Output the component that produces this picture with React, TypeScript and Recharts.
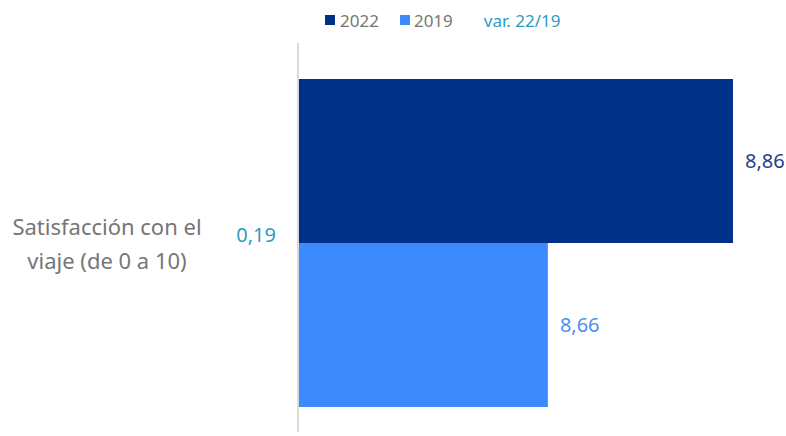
import { BarChart, Bar, XAxis, YAxis, Legend, LabelList } from 'recharts'

const categories = ['Satisfacción con el viaje (de 0 a 10)']
const values2022 = [8.86]
const values2019 = [8.66]
const variation = [0.19]
const categoryLines = [['Satisfacción con el', 'viaje (de 0 a 10)']]

const COLOR_2022 = '#003087'
const COLOR_2019 = '#3d8afd'
const COLOR_VAR = '#2e9ac4'
const TEXT_GRAY = '#767676'
const FONT = '"Noto Sans", "Open Sans", sans-serif'

const data = categories.map((name, i) => ({
  name,
  y2022: values2022[i],
  y2019: values2019[i],
  variation: variation[i],
}))

const fmt = (v: any) => Number(v).toFixed(2).replace('.', ',')

const CategoryTick = ({ x, y, payload }: any) => {
  const idx = payload.index ?? 0
  const lines = categoryLines[idx] || [payload.value]
  return (
    <g>
      <text x={107} y={y} textAnchor="middle" fontFamily={FONT} fontSize={22} fill={TEXT_GRAY}>
        {lines.map((l, i) => (
          <tspan key={i} x={107} dy={i === 0 ? -8 : 34}>
            {l}
          </tspan>
        ))}
      </text>
      <text x={x - 14} y={y - 6} textAnchor="end" dominantBaseline="middle" fontFamily={FONT} fontSize={20} fill={COLOR_VAR}>
        {fmt(variation[idx])}
      </text>
    </g>
  )
}

const LegendContent = () => (
  <div style={{ display: 'flex', alignItems: 'center', fontFamily: FONT, fontSize: 17, color: TEXT_GRAY, paddingLeft: 325, height: 20 }}>
    <span style={{ width: 10, height: 10, background: COLOR_2022, display: 'inline-block', marginRight: 5 }} />
    <span style={{ marginRight: 21 }}>2022</span>
    <span style={{ width: 10, height: 10, background: COLOR_2019, display: 'inline-block', marginRight: 4 }} />
    <span style={{ marginRight: 31 }}>2019</span>
    <span style={{ color: COLOR_VAR }}>var. 22/19</span>
  </div>
)

export default function App() {
  return (
    <div style={{ position: 'absolute', left: 0, top: 0, width: 786, height: 436, background: '#fff' }}>
      <BarChart
        width={786}
        height={436}
        data={data}
        layout="vertical"
        margin={{ top: 23, right: 16, bottom: 4, left: 0 }}
        barCategoryGap={26}
        barGap={0}
      >
        <XAxis type="number" domain={[8.39, 8.9]} hide />
        <YAxis
          type="category"
          dataKey="name"
          width={298}
          padding={{ top: 10, bottom: 0 }}
          axisLine={{ stroke: '#d9d9d9', strokeWidth: 2 }}
          tickLine={false}
          tick={<CategoryTick />}
        />
        <Legend verticalAlign="top" height={20} content={<LegendContent />} wrapperStyle={{ top: 10, left: 0, width: 786 }} />
        <Bar dataKey="y2022" fill={COLOR_2022} isAnimationActive={false}>
          <LabelList dataKey="y2022" position="right" offset={12} formatter={fmt} fill="#1f3f8f" fontSize={20} fontFamily={FONT} />
        </Bar>
        <Bar dataKey="y2019" fill={COLOR_2019} isAnimationActive={false}>
          <LabelList dataKey="y2019" position="right" offset={12} formatter={fmt} fill="#4a8ff5" fontSize={20} fontFamily={FONT} />
        </Bar>
      </BarChart>
    </div>
  )
}
